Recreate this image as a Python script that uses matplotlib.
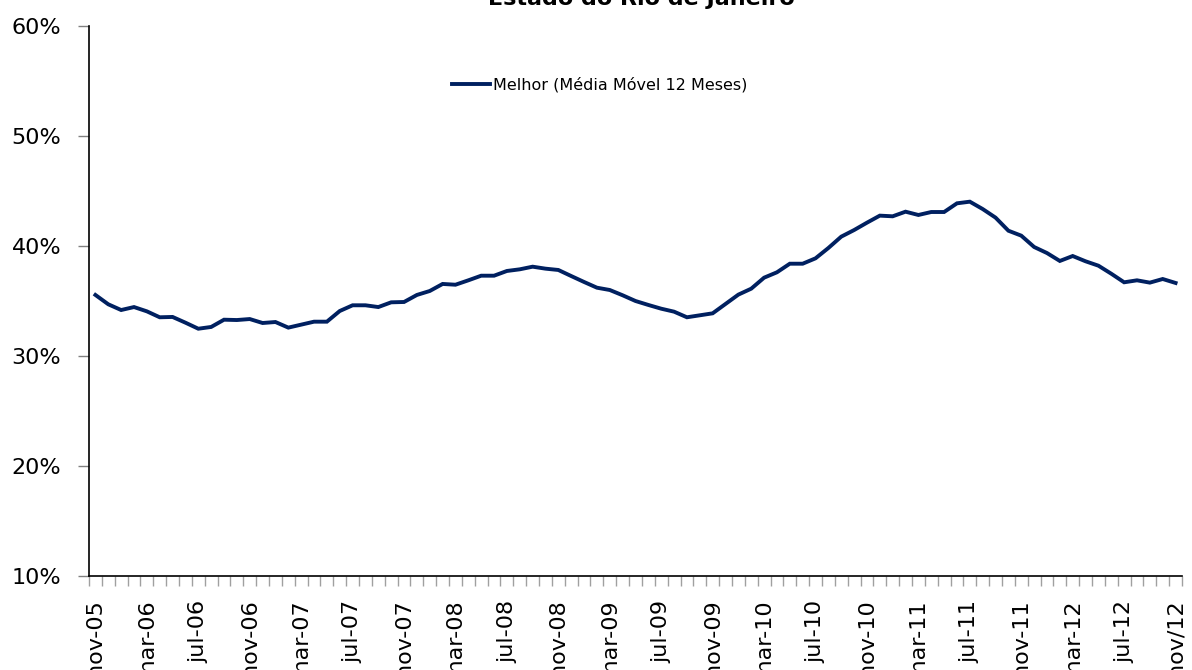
import matplotlib
matplotlib.use("Agg")
import matplotlib.pyplot as plt
from matplotlib.ticker import FixedLocator, FuncFormatter

# ---- data ----
month_abbr = ["jan", "fev", "mar", "abr", "mai", "jun", "jul", "ago", "set", "out", "nov", "dez"]
categories = []
y, m = 2005, 10
for _ in range(85):
    categories.append(f"{month_abbr[m]}-{str(y)[2:]}")
    m += 1
    if m == 12:
        m = 0
        y += 1

values = [35.55, 34.70, 34.18, 34.45, 34.06, 33.52, 33.55, 33.03, 32.48, 32.64,
          33.30, 33.27, 33.36, 33.00, 33.09, 32.58, 32.85, 33.12, 33.12, 34.09,
          34.61, 34.61, 34.45, 34.88, 34.91, 35.55, 35.91, 36.55, 36.48, 36.88,
          37.30, 37.30, 37.73, 37.88, 38.12, 37.94, 37.82, 37.27, 36.73, 36.21,
          36.00, 35.52, 35.00,
          34.64, 34.30, 34.03, 33.52, 33.70, 33.88, 34.73, 35.58, 36.12, 37.12,
          37.61, 38.39, 38.39, 38.88, 39.82, 40.85, 41.45, 42.12, 42.76, 42.70,
          43.12, 42.82, 43.09, 43.09, 43.88, 44.03, 43.36, 42.58, 41.39, 40.94,
          39.91, 39.36, 38.64, 39.09, 38.61, 38.21, 37.48, 36.70, 36.88, 36.67,
          37.00, 36.64]

tick_labels = ["nov-05", "mar-06", "jul-06", "nov-06", "mar-07", "jul-07", "nov-07",
               "mar-08", "jul-08", "nov-08", "mar-09", "jul-09", "nov-09", "mar-10",
               "jul-10", "nov-10", "mar-11", "jul-11", "nov-11", "mar-12", "jul-12",
               "nov/12"]
y_ticks = [10, 20, 30, 40, 50, 60]
series_name = "Melhor (Média Móvel 12 Meses)"
title = "Estado do Rio de Janeiro"

# ---- figure ----
plt.rcParams["font.family"] = ["DejaVu Sans"]
W, H = 1192, 670
fig = plt.figure(figsize=(W / 100, H / 100), dpi=100)
ax = fig.add_axes([89 / W, (H - 576) / H, (1182 - 89) / W, (576 - 26) / H])

x = list(range(len(values)))
line, = ax.plot(x, values, color="#002060", lw=2.8, solid_joinstyle="miter",
                label=series_name)

ax.set_xlim(-0.5, len(values) - 0.5)
ax.set_ylim(10, 60)

# y axis
ax.set_yticks(y_ticks)
ax.yaxis.set_major_formatter(FuncFormatter(lambda v, p: f"{v:.0f}%"))
ax.tick_params(axis="y", which="major", direction="out", length=8, width=1,
               color="#808080", pad=12, labelsize=16)

# x axis: labels every 4 months, tick marks at category boundaries
label_pos = [i for i in range(0, len(values), 4)]
ax.xaxis.set_major_locator(FixedLocator(label_pos))
ax.set_xticklabels(tick_labels, rotation=90, va="top", ha="center")
ax.tick_params(axis="x", which="major", length=0, pad=17, labelsize=16)
ax.xaxis.set_minor_locator(FixedLocator([i - 0.5 for i in range(len(values) + 1)]))
ax.tick_params(axis="x", which="minor", direction="out", length=7, width=1,
               color="#a0a0a0")

for s in ["top", "right"]:
    ax.spines[s].set_visible(False)
for s in ["left", "bottom"]:
    ax.spines[s].set_color("black")
    ax.spines[s].set_linewidth(1.2)

leg = ax.legend(handles=[line], loc="center left",
                bbox_to_anchor=(452 / W, 1 - 85 / H), bbox_transform=fig.transFigure,
                frameon=False, fontsize=11.5, handlelength=2.4, handletextpad=0.15,
                borderpad=0, borderaxespad=0)

fig.text(641 / W, 1 - 5 / H, title, ha="center", va="baseline",
         fontsize=16, fontweight="bold")

fig.savefig("out.png", dpi=100)
